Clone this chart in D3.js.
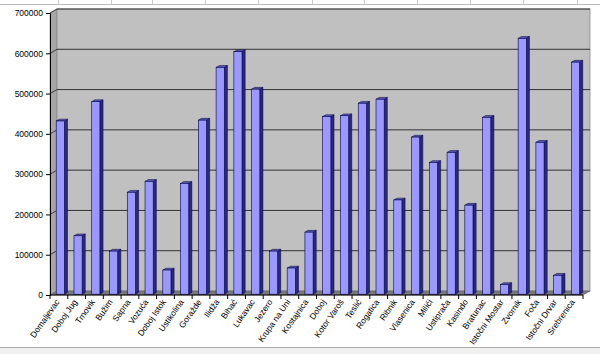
<!DOCTYPE html>
<html>
<head>
<meta charset="utf-8">
<script src="https://cdn.jsdelivr.net/npm/d3@7"></script>
<style>
  body { margin: 0; background: #fff; }
  text { font-family: "Liberation Sans", Arial, sans-serif; font-size: 8.5px; fill: #000; }
</style>
</head>
<body>
<svg id="chart" width="600" height="354"></svg>
<script>
// categories and values
var categories = ['Domaljevac', 'Doboj Jug', 'Trnovik', 'Bužim', 'Sapna', 'Vozuća',
  'Doboj Istok', 'Ustikolina', 'Goražde', 'Ilidža', 'Bihać', 'Lukavac', 'Jezero',
  'Krupa na Uni', 'Kostajnica', 'Doboj', 'Kotor Varoš', 'Teslić', 'Rogatica', 'Ribnik',
  'Vlasenica', 'Milići', 'Ustiprača', 'Kasindo', 'Bratunac', 'Istočni Mostar', 'Zvornik',
  'Foča', 'Istočni Drvar', 'Srebrenica'];
var values = [430000, 145000, 478000, 107000, 253000, 280000, 60000, 275000, 432000,
  563000, 602000, 509000, 107000, 65000, 154000, 441000, 443000, 474000, 484000, 234000,
  390000, 327000, 352000, 221000, 439000, 24000, 635000, 377000, 47000, 576000];
var yTicks = [0, 100000, 200000, 300000, 400000, 500000, 600000, 700000];

var svg = d3.select('#chart');

// spreadsheet grid remnants
svg.append('line').attr('x1', 0).attr('x2', 600).attr('y1', 4.5).attr('y2', 4.5)
  .attr('stroke', '#bbb');
[58, 111, 152, 205, 258, 312, 364, 417, 470, 523, 577].forEach(function(x) {
  svg.append('line').attr('x1', x + 0.5).attr('x2', x + 0.5).attr('y1', 0).attr('y2', 4)
    .attr('stroke', '#ccc');
});
svg.append('rect').attr('x', 0).attr('y', 347).attr('width', 600).attr('height', 7)
  .attr('fill', '#f0f0f0');
svg.append('line').attr('x1', 0).attr('x2', 600).attr('y1', 347.5).attr('y2', 347.5)
  .attr('stroke', '#aaa');

var x = d3.scaleBand().domain(categories).range([50, 583]);
var y = d3.scaleLinear().domain([0, 700000]).range([295, 13]);

var dx = 7, dy = -4; // depth offset

// side wall
svg.append('path')
  .attr('d', 'M50,' + y(700000) + 'L' + (50 + dx) + ',' + (y(700000) + dy) +
    'L' + (50 + dx) + ',' + (y(0) + dy) + 'L50,' + y(0) + 'Z')
  .attr('fill', '#a6a6a6').attr('stroke', '#808080').attr('stroke-width', 0.6);

// back wall
svg.append('rect')
  .attr('x', 50 + dx).attr('y', y(700000) + dy)
  .attr('width', 583 - 50).attr('height', y(0) - y(700000))
  .attr('fill', '#c0c0c0').attr('stroke', '#8c8c8c').attr('stroke-width', 0.8);

// floor
svg.append('path')
  .attr('d', 'M50,' + y(0) + 'L' + (50 + dx) + ',' + (y(0) + dy) +
    'L' + (583 + dx) + ',' + (y(0) + dy) + 'L583,' + y(0) + 'Z')
  .attr('fill', '#7a7a7a').attr('stroke', '#555').attr('stroke-width', 0.5);

// gridlines on the wall
var grid = svg.append('g');
yTicks.forEach(function(t) {
  if (t === 0) return;
  grid.append('line')
    .attr('x1', 50).attr('y1', y(t))
    .attr('x2', 50 + dx).attr('y2', y(t) + dy)
    .attr('stroke', '#222').attr('stroke-width', 0.8);
  grid.append('line')
    .attr('x1', 50 + dx).attr('y1', y(t) + dy)
    .attr('x2', 583 + dx).attr('y2', y(t) + dy)
    .attr('stroke', '#222').attr('stroke-width', 0.9);
});

// bars (front face, side, top)
var bw = x.bandwidth() * 0.46;
var f0 = 0.2, f1 = 0.65; // depth fractions
var bars = svg.append('g').selectAll('g')
  .data(categories.map(function(c, i) { return { c: c, v: values[i] }; }))
  .enter().append('g');

bars.append('path')
  .attr('d', function(d) {
    var xl = x(d.c) + (x.bandwidth() - bw) / 2 + dx * f0;
    var xr = xl + bw;
    var yt = y(d.v) + dy * f0, yb = y(0) + dy * f0;
    var ox = dx * (f1 - f0), oy = dy * (f1 - f0);
    return 'M' + xr + ',' + yb + 'L' + (xr + ox) + ',' + (yb + oy) +
      'L' + (xr + ox) + ',' + (yt + oy) + 'L' + xr + ',' + yt + 'Z';
  })
  .attr('fill', '#2a2a78').attr('stroke', '#000040').attr('stroke-width', 0.5);

bars.append('path')
  .attr('d', function(d) {
    var xl = x(d.c) + (x.bandwidth() - bw) / 2 + dx * f0;
    var xr = xl + bw;
    var yt = y(d.v) + dy * f0;
    var ox = dx * (f1 - f0), oy = dy * (f1 - f0);
    return 'M' + xl + ',' + yt + 'L' + (xl + ox) + ',' + (yt + oy) +
      'L' + (xr + ox) + ',' + (yt + oy) + 'L' + xr + ',' + yt + 'Z';
  })
  .attr('fill', '#5c5cb8').attr('stroke', '#000040').attr('stroke-width', 0.5);

bars.append('rect')
  .attr('x', function(d) { return x(d.c) + (x.bandwidth() - bw) / 2 + dx * f0; })
  .attr('y', function(d) { return y(d.v) + dy * f0; })
  .attr('width', bw)
  .attr('height', function(d) { return y(0) - y(d.v); })
  .attr('fill', '#9999ff').attr('stroke', '#000050').attr('stroke-width', 0.6);

// y axis
var yAxis = svg.append('g').attr('transform', 'translate(50,0)')
  .call(d3.axisLeft(y).tickValues(yTicks).tickSize(4).tickPadding(3)
    .tickFormat(d3.format('d')));
yAxis.select('.domain').attr('stroke', '#000');
yAxis.selectAll('.tick line').attr('stroke', '#000');
yAxis.selectAll('text').style('font-size', '8.5px')
  .style('font-family', '"Liberation Sans", Arial, sans-serif');

// x axis
var xAxis = svg.append('g').attr('transform', 'translate(0,' + y(0) + ')');
xAxis.append('line').attr('x1', 50).attr('x2', 583).attr('y1', 0).attr('y2', 0)
  .attr('stroke', '#000');
xAxis.selectAll('.tk').data(categories.concat(['end'])).enter().append('line')
  .attr('x1', function(d, i) { return 50 + i * x.step(); })
  .attr('x2', function(d, i) { return 50 + i * x.step(); })
  .attr('y1', 0).attr('y2', 4).attr('stroke', '#000');
xAxis.selectAll('.lbl').data(categories).enter().append('text')
  .attr('text-anchor', 'end')
  .attr('transform', function(d) {
    return 'translate(' + (x(d) + x.bandwidth() / 2 + 1) + ',7) rotate(-55)';
  })
  .text(function(d) { return d; });
</script>
</body>
</html>
